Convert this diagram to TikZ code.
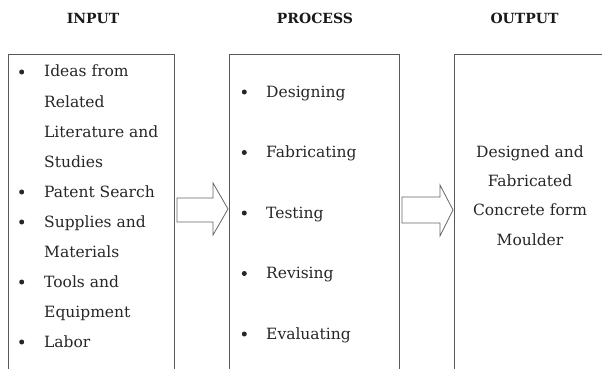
\documentclass[tikz,border=0pt]{standalone}
\usepackage{fontspec}
\setmainfont{DejaVu Serif}
\begin{document}
\begin{tikzpicture}[x=1pt,y=-1pt,
  frame/.style={draw=black!65, line width=0.9pt},
  hdr/.style={font=\bfseries\fontsize{14}{16}\selectfont, text=black!90, anchor=base, inner sep=0pt},
  itm/.style={font=\fontsize{15.5}{18}\selectfont, anchor=base west, inner sep=0pt, text=black!85},
  ctr/.style={font=\fontsize{15.5}{18}\selectfont, anchor=base, inner sep=0pt, text=black!85},
  bul/.style={circle, fill=black!85, inner sep=0pt, minimum size=5pt},
  blockarrow/.style={draw=black!60, line width=0.8pt, fill=white}]
\useasboundingbox (0,0) rectangle (602,369);
% headers
\node[hdr] (hin) at (93,24) {INPUT};
\node[hdr] (hpr) at (315,24) {PROCESS};
\node[hdr] (hout) at (524.5,24) {OUTPUT};
% frames (open at bottom)
\draw[frame] (8,369) -- (8,54) -- (174,54) -- (174,369);
\draw[frame] (229,369) -- (229,54) -- (399,54) -- (399,369);
\draw[frame] (454,369) -- (454,54) -- (602,54);
% input items
\foreach \t/\i/\b in {Ideas from/0/1, Related/1/0, Literature and/2/0, Studies/3/0, Patent Search/4/1, Supplies and/5/1, Materials/6/0, Tools and/7/1, Equipment/8/0, Labor/9/1}{
  \node[itm] (in\i) at (44,77+30*\i) {\t};
  \ifnum\b=1 \node[bul] (inb\i) at (21.7,72+30*\i) {}; \fi
}
% process items
\foreach \t/\i in {Designing/0, Fabricating/1, Testing/2, Revising/3, Evaluating/4}{
  \node[itm] (pr\i) at (266,97+60.5*\i) {\t};
  \node[bul] (prb\i) at (244.3,92+60.5*\i) {};
}
% output text
\foreach \t/\i in {Designed and/0, Fabricated/1, Concrete form/2, Moulder/3}{
  \node[ctr] (out\i) at (530,157+29.4*\i) {\t};
}
% block arrows
\draw[blockarrow] (177,198) -- (213,198) -- (213,183) -- (228,209) -- (213,235) -- (213,222) -- (177,222) -- cycle;
\draw[blockarrow] (402,197) -- (440,197) -- (440,185) -- (453,210) -- (440,236) -- (440,223) -- (402,223) -- cycle;
\end{tikzpicture}
\end{document}
